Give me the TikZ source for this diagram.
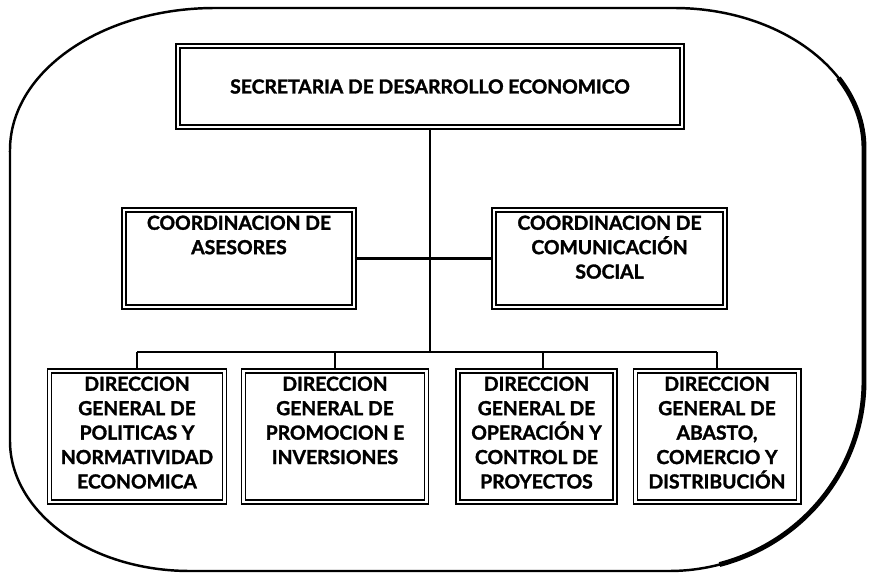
\documentclass[tikz,border=0pt]{standalone}
\usepackage{fontspec}
\setmainfont{Lato}[BoldFeatures={FakeBold=1.6}]
\usepackage{tikz}
\usetikzlibrary{calc}
\tikzstyle{int}=[draw, double, double distance=1.2pt, line width=1.1pt, inner sep=0pt, font=\bfseries\fontsize{11}{13.9}\selectfont]
\tikzstyle{line}=[line width=1.2pt]
\newcommand{\boxtext}[3]{\parbox[c][#1][t]{#2}{\centering\vspace*{3.2pt}#3}}

\begin{document}
\begin{tikzpicture}[node distance=2cm,auto]
      \useasboundingbox (0,0) rectangle (17.38,-11.58);

      % marco exterior
      \draw[line width=1.4pt] (0.2,-3.0) -- (0.2,-8.82)
        arc[start angle=180, end angle=270, x radius=3.6cm, y radius=2.6cm] -- (13.38,-11.42)
        arc[start angle=270, end angle=360, x radius=3.9cm, y radius=3.8cm] -- (17.28,-2.96)
        arc[start angle=0, end angle=90, x radius=3.8cm, y radius=2.8cm] -- (4.3,-0.16)
        arc[start angle=90, end angle=180, x radius=4.1cm, y radius=2.84cm] -- cycle;
      \draw[line width=2.8pt] ($(13.48,-2.96)+(30:3.8cm and 2.8cm)$)
        arc[start angle=30, end angle=0, x radius=3.8cm, y radius=2.8cm] -- (17.28,-7.62)
        arc[start angle=0, end angle=-75, x radius=3.9cm, y radius=3.8cm];

      \node [int, minimum width=10.08cm, minimum height=1.62cm] (sec) at (8.6,-1.73) {SECRETARIA DE DESARROLLO ECONOMICO};
      \node (mid) [coordinate, below of=sec, node distance=3.44cm] {};

      \node [int] (ases) [left of=mid, node distance=3.82cm] {\boxtext{1.94cm}{4.6cm}{COORDINACION DE\\ASESORES}};
      \node [int] (comu) [right of=mid, node distance=3.59cm] {\boxtext{1.94cm}{4.62cm}{COORDINACION DE\\COMUNICACIÓN\\SOCIAL}};

      \node (bus) [coordinate, below of=mid, node distance=1.87cm] {};
      \node (b1) [coordinate, left of=bus, node distance=5.86cm] {};
      \node (b2) [coordinate, left of=bus, node distance=1.9cm] {};
      \node (b3) [coordinate, right of=bus, node distance=2.26cm] {};
      \node (b4) [coordinate, right of=bus, node distance=5.74cm] {};

      \node [int] (dir1) [below of=b1, node distance=1.69cm] {\boxtext{2.62cm}{3.5cm}{DIRECCION\\GENERAL DE\\POLITICAS Y\\NORMATIVIDAD\\ECONOMICA}};
      \node [int] (dir2) [below of=b2, node distance=1.69cm] {\boxtext{2.62cm}{3.66cm}{DIRECCION\\GENERAL DE\\PROMOCION E\\INVERSIONES}};
      \node [int] (dir3) [below of=b3, node distance=1.69cm, xshift=-0.13cm] {\boxtext{2.62cm}{3.14cm}{DIRECCION\\GENERAL DE\\OPERACIÓN Y\\CONTROL DE\\PROYECTOS}};
      \node [int] (dir4) [below of=b4, node distance=1.69cm] {\boxtext{2.62cm}{3.26cm}{DIRECCION\\GENERAL DE\\ABASTO,\\COMERCIO Y\\DISTRIBUCIÓN}};

      \draw[line] (sec) -- (mid) -- (bus);
      \draw[line] (ases) -- (comu);
      \draw[line] (b1) -- (b4);
      \draw[line] (b1) -- (b1 |- dir1.north);
      \draw[line] (b2) -- (b2 |- dir2.north);
      \draw[line] (b3) -- (b3 |- dir3.north);
      \draw[line] (b4) -- (b4 |- dir4.north);
  \end{tikzpicture}
\end{document}
